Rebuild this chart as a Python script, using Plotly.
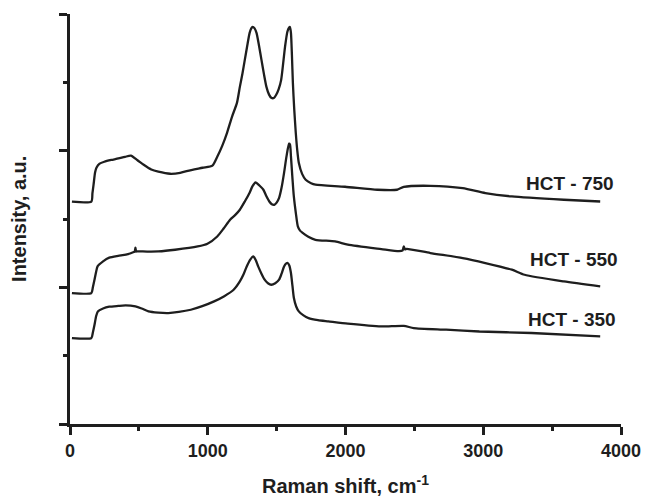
import plotly.graph_objects as go

# Raman spectra (x: Raman shift cm-1, y: intensity a.u.)
x_750 = [14, 155, 163, 171, 182, 192, 215, 249, 300, 342, 400, 442, 490, 535, 590, 641, 727, 800, 855,
         962, 1034, 1069, 1105, 1140, 1176, 1212, 1233, 1252, 1269, 1287, 1304, 1316, 1326, 1340, 1354,
         1372, 1390, 1408, 1426, 1445, 1461, 1480, 1497, 1515, 1533, 1561, 1578, 1590, 1597, 1604, 1611,
         1618, 1628, 1639, 1650, 1661, 1685, 1711, 1750, 1782, 1996, 2231, 2374, 2423, 2616, 2851,
         3015, 3208, 3585, 3849]
y_750 = [1.627, 1.627, 1.690, 1.751, 1.840, 1.875, 1.905, 1.919, 1.932, 1.941, 1.955, 1.963, 1.930,
         1.897, 1.862, 1.846, 1.831, 1.838, 1.853, 1.875, 1.890, 1.955, 2.035, 2.131, 2.248, 2.350,
         2.467, 2.565, 2.664, 2.770, 2.862, 2.895, 2.906, 2.895, 2.862, 2.770, 2.664, 2.560, 2.467,
         2.410, 2.387, 2.385, 2.409, 2.450, 2.518, 2.760, 2.870, 2.899, 2.905, 2.862, 2.700, 2.496,
         2.300, 2.131, 2.000, 1.911, 1.830, 1.787, 1.762, 1.751, 1.736, 1.714, 1.714, 1.735, 1.743,
         1.726, 1.690, 1.665, 1.641, 1.628]

x_550 = [14, 155, 166, 178, 189, 200, 240, 285, 350, 406, 463, 470, 475, 480, 485, 560, 641, 763, 927,
         998, 1069, 1115, 1162, 1200, 1233, 1270, 1304, 1325, 1347, 1375, 1404, 1425, 1447, 1465, 1483,
         1500, 1518, 1536, 1554, 1572, 1590, 1597, 1604, 1614, 1625, 1640, 1654, 1670, 1689, 1730,
         1782, 1925, 2017, 2260, 2388, 2415, 2423, 2432, 2445, 2616, 2851, 3015, 3208, 3300, 3585, 3849]
y_550 = [0.958, 0.958, 1.000, 1.056, 1.110, 1.153, 1.190, 1.217, 1.230, 1.239, 1.258, 1.262, 1.290,
         1.262, 1.263, 1.262, 1.263, 1.275, 1.299, 1.319, 1.372, 1.430, 1.495, 1.530, 1.568, 1.630,
         1.692, 1.740, 1.767, 1.745, 1.714, 1.668, 1.628, 1.608, 1.604, 1.620, 1.655, 1.730, 1.838,
         1.960, 2.051, 2.045, 1.958, 1.810, 1.665, 1.540, 1.446, 1.415, 1.399, 1.370, 1.348, 1.336,
         1.312, 1.280, 1.265, 1.270, 1.300, 1.278, 1.282, 1.251, 1.214, 1.178, 1.129, 1.092, 1.043,
         1.007]

x_350 = [14, 155, 166, 178, 190, 202, 240, 285, 350, 404, 475, 520, 570, 640, 713, 790, 877, 960, 1046,
         1120, 1188, 1233, 1260, 1283, 1310, 1331, 1348, 1366, 1390, 1413, 1437, 1461, 1490, 1518, 1536,
         1554, 1570, 1580, 1592, 1604, 1615, 1625, 1642, 1661, 1695, 1732, 1800, 1875, 2017, 2260,
         2423, 2495, 2730, 2972, 3350, 3849]
y_350 = [0.629, 0.629, 0.670, 0.726, 0.790, 0.824, 0.845, 0.858, 0.864, 0.868, 0.860, 0.845, 0.824,
         0.815, 0.812, 0.820, 0.836, 0.862, 0.897, 0.935, 0.982, 1.043, 1.095, 1.153, 1.205, 1.226,
         1.200, 1.153, 1.100, 1.056, 1.030, 1.019, 1.030, 1.056, 1.100, 1.153, 1.175, 1.178, 1.160,
         1.105, 1.010, 0.924, 0.860, 0.824, 0.795, 0.775, 0.760, 0.751, 0.734, 0.714, 0.718, 0.702,
         0.690, 0.677, 0.666, 0.641]

labels = ["HCT - 750", "HCT - 550", "HCT - 350"]
label_x = [3632, 3660, 3646]
label_y = [1.763, 1.202, 0.763]

x_ticks = [0, 1000, 2000, 3000, 4000]
y_ticks = [0, 1, 2, 3]

LINE = "#1e1e1e"
FONT = "Arial, Liberation Sans, sans-serif"

fig = go.Figure()
for xs, ys in [(x_750, y_750), (x_550, y_550), (x_350, y_350)]:
    fig.add_trace(go.Scatter(x=xs, y=ys, mode="lines",
                             line=dict(color=LINE, width=2.3, shape="spline", smoothing=0.6),
                             showlegend=False))

for t, lx, ly in zip(labels, label_x, label_y):
    fig.add_annotation(x=lx, y=ly, text="<b>" + t + "</b>", showarrow=False,
                       xanchor="center", yanchor="middle",
                       font=dict(family=FONT, size=19, color=LINE))

fig.add_annotation(xref="paper", yref="paper", x=0.5, y=-0.148, xanchor="center", yanchor="middle",
                   text="<b>Raman shift, cm<sup>-1</sup></b>",
                   showarrow=False, font=dict(family=FONT, size=20, color=LINE))
fig.add_annotation(xref="paper", yref="paper", x=-0.0927, y=0.5, xanchor="center", yanchor="middle",
                   text="<b>Intensity, a.u.</b>",
                   textangle=-90, showarrow=False, font=dict(family=FONT, size=20, color=LINE))

fig.update_layout(
    width=653, height=497,
    margin=dict(l=70, r=22, t=14, b=73),
    plot_bgcolor="white", paper_bgcolor="white",
    font=dict(family=FONT, color=LINE),
)
fig.update_xaxes(range=[0, 4000], tickvals=x_ticks, ticktext=["<b>%d</b>" % v for v in x_ticks],
                 showline=True, linecolor=LINE, linewidth=3, showgrid=False, zeroline=False,
                 ticks="outside", ticklen=8, tickwidth=3, tickcolor=LINE,
                 tickfont=dict(family=FONT, size=18, color=LINE),
                 minor=dict(ticks="outside", ticklen=4, tickwidth=3, tickcolor=LINE, dtick=500, showgrid=False))
fig.update_yaxes(range=[0, 3], tickvals=y_ticks, showticklabels=False,
                 showline=True, linecolor=LINE, linewidth=3, showgrid=False, zeroline=False,
                 ticks="outside", ticklen=8, tickwidth=3, tickcolor=LINE,
                 minor=dict(ticks="outside", ticklen=4, tickwidth=3, tickcolor=LINE, dtick=0.5, showgrid=False))

fig.write_html("out.html")
